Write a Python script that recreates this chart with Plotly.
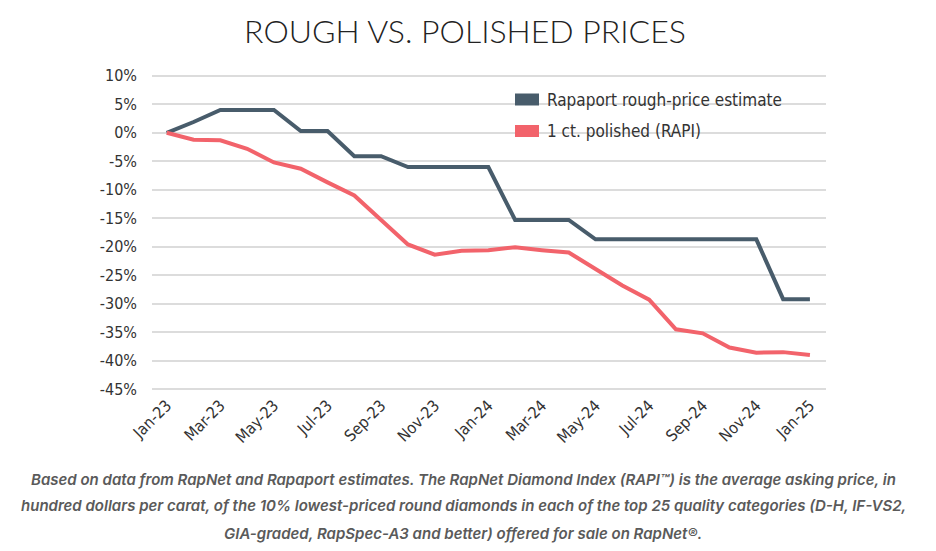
import plotly.graph_objects as go

# monthly observations, Jan-23 .. Jan-25, % change since Jan-23
months = ["Jan-23", "Feb-23", "Mar-23", "Apr-23", "May-23", "Jun-23", "Jul-23", "Aug-23",
          "Sep-23", "Oct-23", "Nov-23", "Dec-23", "Jan-24", "Feb-24", "Mar-24", "Apr-24",
          "May-24", "Jun-24", "Jul-24", "Aug-24", "Sep-24", "Oct-24", "Nov-24", "Dec-24",
          "Jan-25"]
rough = [0.0, 1.9, 4.0, 4.0, 4.0, 0.3, 0.3, -4.1, -4.1, -6.0, -6.0, -6.0, -6.0,
         -15.3, -15.3, -15.3, -18.7, -18.7, -18.7, -18.7, -18.7, -18.7, -18.7, -29.2, -29.2]
polished = [0.0, -1.2, -1.3, -2.8, -5.2, -6.3, -8.7, -11.0, -15.3, -19.6, -21.4, -20.7, -20.6,
            -20.1, -20.6, -21.0, -23.9, -26.8, -29.3, -34.5, -35.2, -37.7, -38.6, -38.5, -39.0]

series_names = ["Rapaport rough-price estimate", "1 ct. polished (RAPI)"]
series_colors = ["#485c6b", "#f2636b"]

y_ticks = list(range(-45, 11, 5))
y_labels = [f"{v}%" for v in y_ticks]

footnote = [
    "Based on data from RapNet and Rapaport estimates. The RapNet Diamond Index (RAPI\u2122) is the average asking price, in",
    "hundred dollars per carat, of the 10% lowest-priced round diamonds in each of the top 25 quality categories (D-H, IF-VS2,",
    "GIA-graded, RapSpec-A3 and better) offered for sale on RapNet\u00ae.",
]

# the page sits 8px in from the window corner, so work in window pixels and shift
OFF = 8
W, H = 936, 551
PL, PR, PT, PB = 152, 826, 73, 392   # plot area in window pixels


def px(x):
    return (x - PL) / (PR - PL)


def py(y):
    return (PB - y) / (PB - PT)


tick_font = dict(family="Liberation Sans Narrow, DejaVu Sans Condensed, Roboto", size=16, color="#333333")

fig = go.Figure()
for name, vals, color in zip(series_names, [rough, polished], series_colors):
    fig.add_trace(go.Scatter(x=months, y=vals, mode="lines", name=name,
                             line=dict(color=color, width=4), showlegend=False))

# hand-made legend: white box over the grid, square swatches, text
fig.add_shape(type="rect", xref="paper", yref="paper", x0=px(505), x1=px(785),
              y0=py(142), y1=py(84), fillcolor="white", line_width=0, layer="between")
for i, (name, color) in enumerate(zip(series_names, series_colors)):
    yc = 99.5 + i * 31.5
    fig.add_shape(type="rect", xref="paper", yref="paper",
                  x0=px(515), x1=px(539), y0=py(yc + 6), y1=py(yc - 6),
                  fillcolor=color, line_width=0, layer="above")
    fig.add_annotation(text=name, xref="paper", yref="paper", x=px(545), y=py(yc),
                       xanchor="left", yanchor="middle", showarrow=False,
                       font=dict(family=tick_font["family"], size=17, color="#333333"))

for i, line in enumerate(footnote):
    fig.add_annotation(text=f"<i>{line}</i>", xref="paper", yref="paper",
                       x=px(463), y=py(479 + i * 27),
                       xanchor="center", yanchor="middle", showarrow=False,
                       font=dict(family="Inter, Open Sans", size=15, color="#5a5a5a", weight=600))

fig.update_layout(
    width=W, height=H,
    paper_bgcolor="white", plot_bgcolor="white",
    margin=dict(l=PL - OFF, r=W - PR + OFF, t=PT - OFF, b=H - PB + OFF, autoexpand=False),
    title=dict(text="ROUGH VS. POLISHED PRICES", x=(465 - OFF) / W, xanchor="center",
               y=1 - (32 - OFF) / H, yanchor="middle",
               font=dict(family="Lato, Open Sans", size=32, color="#222222", weight=300)),
)
fig.update_xaxes(type="category", range=[-0.55, 24.6], tickvals=months[::2], tickangle=-45,
                 showgrid=False, showline=False, ticks="", tickfont=tick_font)
fig.update_yaxes(range=[-45.5, 10.5], tickvals=y_ticks, ticktext=y_labels, showgrid=True,
                 gridcolor="#dcdcdc", gridwidth=2, zeroline=False, showline=False, ticks="",
                 tickfont=tick_font, ticklabelstandoff=14)

fig.write_html("out.html")
